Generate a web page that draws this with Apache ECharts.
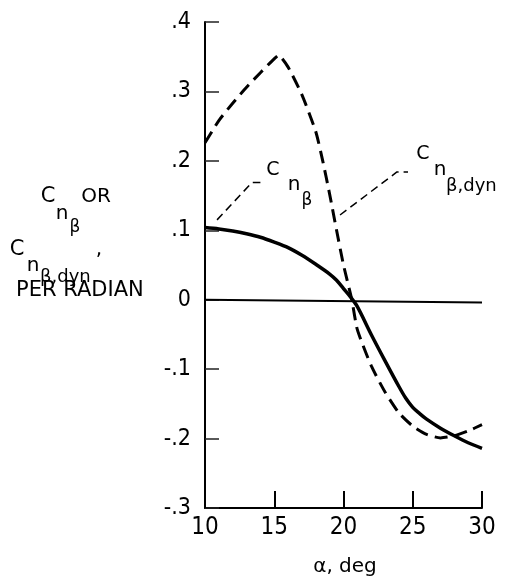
<!DOCTYPE html>
<html>
<head>
<meta charset="utf-8">
<script src="https://cdn.jsdelivr.net/npm/echarts@6/dist/echarts.min.js"></script>
<style>
html,body{margin:0;padding:0;background:#fff;}
#chart{width:505px;height:585px;}
</style>
</head>
<body>
<div id="chart"></div>
<script>
// ---- data ----
var alphaStatic = [10, 11, 12, 13, 14, 15, 16, 17, 18, 19, 19.5, 20, 20.5, 21, 22, 23, 24, 24.5, 25, 25.5, 26, 27, 28, 29, 30];
var cnBeta      = [0.104, 0.102, 0.099, 0.095, 0.090, 0.083, 0.075, 0.064, 0.051, 0.037, 0.028, 0.016, 0.004, -0.010, -0.050, -0.088, -0.125, -0.142, -0.155, -0.164, -0.172, -0.185, -0.196, -0.206, -0.214];
var alphaDyn    = [10, 11, 12, 13, 14, 15, 15.3, 16, 17, 18, 18.5, 19, 19.5, 20, 20.6, 21, 22, 23, 24, 25, 26, 27, 28, 29, 30];
var cnBetaDyn   = [0.226, 0.258, 0.283, 0.306, 0.327, 0.347, 0.352, 0.335, 0.295, 0.242, 0.200, 0.152, 0.100, 0.050, 0.0, -0.043, -0.095, -0.133, -0.163, -0.182, -0.194, -0.199, -0.196, -0.189, -0.180];
var zeroLineX   = [10, 30];
var zeroLineY   = [0, -0.004];
var leaderStaticX = [10.87, 13.4, 14.0];
var leaderStaticY = [0.115, 0.169, 0.169];
var leaderDynX    = [19.75, 23.86, 24.66];
var leaderDynY    = [0.122, 0.184, 0.184];
var xTicks = [10, 15, 20, 25, 30];
var yTicks = [-0.3, -0.2, -0.1, 0, 0.1, 0.2, 0.3, 0.4];

function pairs(xs, ys){ return xs.map(function(x,i){ return [x, ys[i]]; }); }

var NARROW = "Liberation Sans Narrow, DejaVu Sans Condensed, sans-serif";
var TEXTF = "DejaVu Sans, sans-serif";
function txt(s, x, y, size, align){
  return {type:'text', x:x, y:y, z:100,
    style:{text:s, fontSize:size, fontFamily:TEXTF, fill:'#000', align: align || 'center', verticalAlign:'middle'}};
}

var chart = echarts.init(document.getElementById('chart'), null, {renderer:'canvas'});
chart.setOption({
  backgroundColor:'#fff',
  animation:false,
  grid:{left:205, right:23, top:22, bottom:77, outerBoundsMode:'none', containLabel:false},
  xAxis:{
    type:'value', min:10, max:30, interval:5,
    axisLine:{show:true, onZero:false, lineStyle:{color:'#000', width:2}},
    axisTick:{show:true, inside:true, length:17, lineStyle:{color:'#000', width:2}},
    splitLine:{show:false},
    axisLabel:{color:'#000', fontSize:24, fontFamily:NARROW, margin:8,
      formatter:function(v){ return String(v); }}
  },
  yAxis:{
    type:'value', min:-0.3, max:0.4, interval:0.1,
    axisLine:{show:true, onZero:false, lineStyle:{color:'#000', width:2}},
    axisTick:{show:true, inside:true, length:14, lineStyle:{color:'#222', width:1.5}},
    splitLine:{show:false},
    axisLabel:{color:'#000', fontSize:23, fontFamily:NARROW, margin:14,
      formatter:function(v){
        var r = Math.round(v*10);
        if (r === 0) return '0';
        return (r < 0 ? '-' : '') + '.' + Math.abs(r);
      }}
  },
  series:[
    {type:'line', data:pairs(zeroLineX, zeroLineY), symbol:'none', lineStyle:{color:'#000', width:2}, silent:true},
    {type:'line', data:pairs(alphaStatic, cnBeta), symbol:'none', smooth:0.3, lineStyle:{color:'#000', width:3.5}},
    {type:'line', data:pairs(alphaDyn, cnBetaDyn), symbol:'none', smooth:0.2, lineStyle:{color:'#000', width:3, type:[13,7]}},
    {type:'line', data:pairs(leaderStaticX, leaderStaticY), symbol:'none', lineStyle:{color:'#000', width:1.5, type:[8,5]}},
    {type:'line', data:pairs(leaderDynX, leaderDynY), symbol:'none', lineStyle:{color:'#000', width:1.5, type:[8,5]}}
  ],
  graphic:[
    // y-axis title
    txt('C', 48, 197, 21),
    txt('n', 62, 214, 20),
    txt('β', 75, 228, 17),
    txt('OR', 96, 197, 20),
    txt('C', 17, 250, 21),
    txt('n', 33, 266, 20),
    txt('β,dyn', 40, 277, 18, 'left'),
    txt(',', 99, 250, 20),
    txt('PER RADIAN', 16, 291, 21, 'left'),
    // series labels
    txt('C', 273, 170, 19),
    txt('n', 294, 185, 20),
    txt('β', 307, 201, 17),
    txt('C', 423, 154, 19),
    txt('n', 440, 170, 20),
    txt('β,dyn', 446, 186, 18, 'left'),
    // x-axis title
    txt('α, deg', 345, 567, 20)
  ]
});
</script>
</body>
</html>
